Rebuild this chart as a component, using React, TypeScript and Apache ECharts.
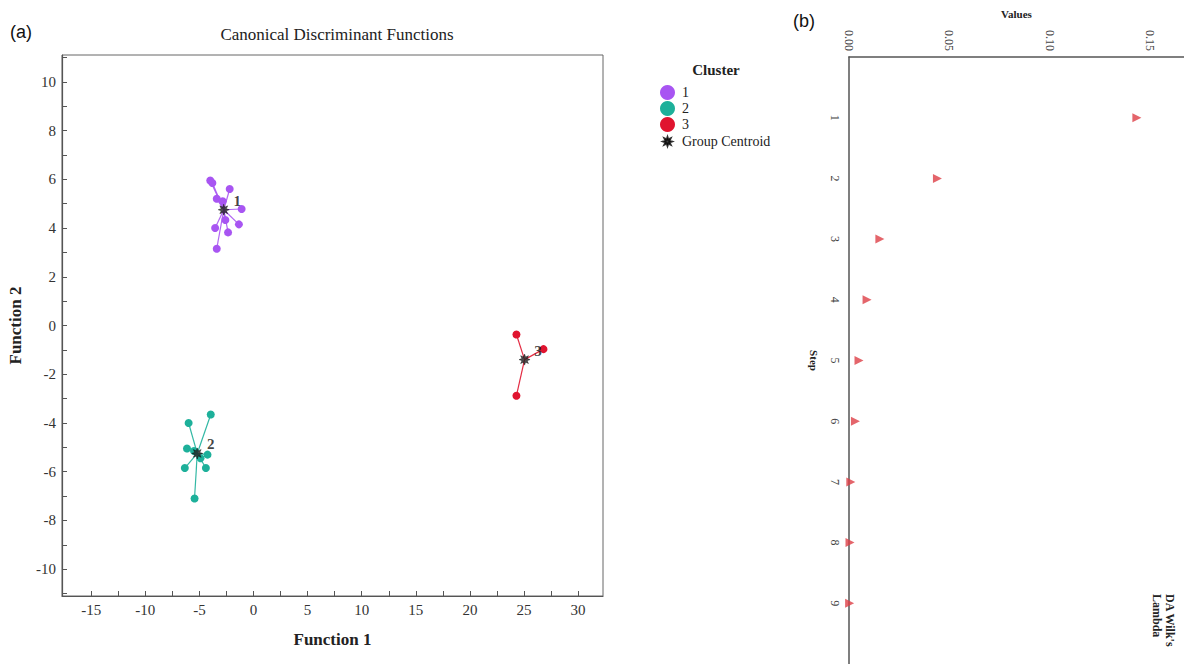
import React, { useEffect, useRef } from "react";
import * as echarts from "echarts";

// Panel (a) data: canonical discriminant scores
const cluster1Points: [number, number][] = [
  [-4.0, 5.95], [-3.8, 5.85], [-2.2, 5.6], [-3.4, 5.2], [-2.85, 5.1], [-1.1, 4.78],
  [-2.6, 4.33], [-1.35, 4.15], [-3.55, 4.0], [-2.35, 3.82], [-3.4, 3.15],
];
const cluster2Points: [number, number][] = [
  [-3.95, -3.65], [-6.0, -4.0], [-6.15, -5.05], [-5.5, -5.15], [-4.25, -5.3],
  [-4.9, -5.45], [-6.35, -5.85], [-4.4, -5.85], [-5.45, -7.1],
];
const cluster3Points: [number, number][] = [
  [24.3, -0.37], [26.8, -0.97], [24.3, -2.88],
];
const centroidNames = ["1", "2", "3"];
const centroids: [number, number][] = [
  [-2.75, 4.75], [-5.2, -5.25], [25.05, -1.4],
];
const clusterColors = ["#A855F2", "#1DB09A", "#E0142F"];
const xLabelValues = [-15, -10, -5, 0, 5, 10, 15, 20, 25, 30];
const xTickValues = [-15, -12.5, -10, -7.5, -5, -2.5, 0, 2.5, 5, 7.5, 10, 12.5, 15, 17.5, 20, 22.5, 25, 27.5, 30];
const yLabelValues = [-10, -8, -6, -4, -2, 0, 2, 4, 6, 8, 10];
const yTickValues = [-11, -10, -9, -8, -7, -6, -5, -4, -3, -2, -1, 0, 1, 2, 3, 4, 5, 6, 7, 8, 9, 10, 11];

// Panel (b) data: Wilks' lambda by step
const steps = [1, 2, 3, 4, 5, 6, 7, 8, 9];
const lambdaValues = [0.1435, 0.0441, 0.0154, 0.009, 0.005, 0.0032, 0.0009, 0.0005, 0.0003];
const valueLabelValues = [0, 0.05, 0.1, 0.15];

const STAR_D =
  "M20 10 L14.62 11.91 L17.07 17.07 L11.91 14.62 L10 20 L8.09 14.62 L2.93 17.07 L5.38 11.91 L0 10 L5.38 8.09 L2.93 2.93 L8.09 5.38 L10 0 L11.91 5.38 L17.07 2.93 L14.62 8.09 Z";
const STAR = "path://" + STAR_D;
const STAR_LEGEND = "path://M-7 -7 " + STAR_D + " M27 27";

const SERIF = "'Liberation Serif', 'DejaVu Serif', serif";
const SANS = "'Liberation Sans', Arial, sans-serif";

export default function App() {
  const ref = useRef<HTMLDivElement>(null);
  useEffect(() => {
    document.body.style.margin = "0";
    if (!ref.current) return;
    const chart = echarts.init(ref.current, undefined, { renderer: "svg" });
    const clusters = [cluster1Points, cluster2Points, cluster3Points];

    const lineSeries = clusters.map((pts, i) => ({
      type: "lines",
      coordinateSystem: "cartesian2d",
      xAxisIndex: 0,
      yAxisIndex: 0,
      silent: true,
      z: 1,
      lineStyle: { color: clusterColors[i], width: 1.2, opacity: 0.9 },
      data: pts.map((p) => ({ coords: [centroids[i], p] })),
    }));

    const pointSeries = clusters.map((pts, i) => ({
      type: "scatter",
      name: String(i + 1),
      xAxisIndex: 0,
      yAxisIndex: 0,
      symbol: "circle",
      symbolSize: 8,
      z: 3,
      itemStyle: { color: clusterColors[i], opacity: 1 },
      data: pts,
    }));

    const axisLabelStyle = { fontFamily: SERIF, fontSize: 15, color: "#333" };

    chart.setOption({
      animation: false,
      backgroundColor: "#ffffff",
      legend: {
        orient: "vertical",
        left: 654,
        top: 80,
        itemWidth: 15,
        itemHeight: 15,
        itemGap: 1,
        textStyle: { fontFamily: SERIF, fontSize: 14, color: "#222", padding: [0, 0, 0, 2] },
        data: [
          { name: "1", icon: "circle" },
          { name: "2", icon: "circle" },
          { name: "3", icon: "circle" },
          { name: "Group Centroid", icon: STAR_LEGEND, itemStyle: { color: "#111" } },
        ],
        selectedMode: false,
      },
      graphic: [
        { type: "text", left: 10, top: 23, style: { text: "(a)", font: `18px ${SANS}`, fill: "#111" } },
        { type: "text", left: 793, top: 12, style: { text: "(b)", font: `18px ${SANS}`, fill: "#111" } },
        {
          type: "text", x: 337, y: 34,
          style: { text: "Canonical Discriminant Functions", font: `17px ${SERIF}`, fill: "#222", textAlign: "center", textVerticalAlign: "middle" },
        },
        {
          type: "text", x: 716, y: 70,
          style: { text: "Cluster", font: `bold 15px ${SERIF}`, fill: "#222", textAlign: "center", textVerticalAlign: "middle" },
        },
        {
          type: "text", x: 1163, y: 594, rotation: -Math.PI / 2,
          style: { text: "DA Wilk's\nLambda", font: `bold 12px ${SERIF}`, fill: "#222", textAlign: "left", textVerticalAlign: "middle", lineHeight: 13 },
        },
      ],
      grid: [
        { left: 62, top: 55, width: 541, height: 541, show: true, borderColor: "#666", borderWidth: 1, backgroundColor: "#fff" },
        { left: 849, top: 57, width: 335, height: 608 },
      ],
      xAxis: [
        {
          type: "value", gridIndex: 0, min: -17.7, max: 32.3,
          name: "Function 1", nameLocation: "middle", nameGap: 35,
          nameTextStyle: { fontFamily: SERIF, fontSize: 17, fontWeight: "bold", color: "#222" },
          axisLine: { show: true, onZero: false, lineStyle: { color: "#555", width: 1.2 } },
          axisTick: { show: true, inside: true, length: 5, customValues: xTickValues, lineStyle: { color: "#555" } },
          axisLabel: { ...axisLabelStyle, margin: 6, customValues: xLabelValues },
          splitLine: { show: false },
        },
        {
          type: "value", gridIndex: 1, position: "top", min: 0, max: 0.167,
          name: "Values", nameLocation: "middle", nameGap: 38,
          nameTextStyle: { fontFamily: SERIF, fontSize: 11, fontWeight: "bold", color: "#222" },
          axisLine: { show: true, lineStyle: { color: "#555", width: 1.5 } },
          axisTick: { show: false },
          axisLabel: {
            fontFamily: SERIF, fontSize: 12, color: "#444", rotate: -90, margin: 6,
            customValues: valueLabelValues,
            formatter: (v: number) => v.toFixed(2),
          },
          splitLine: { show: false },
        },
      ],
      yAxis: [
        {
          type: "value", gridIndex: 0, min: -11.1, max: 11.1,
          name: "Function 2", nameLocation: "middle", nameGap: 38,
          nameTextStyle: { fontFamily: SERIF, fontSize: 17, fontWeight: "bold", color: "#222" },
          axisLine: { show: true, onZero: false, lineStyle: { color: "#555", width: 1.2 } },
          axisTick: { show: true, inside: true, length: 5, customValues: yTickValues, lineStyle: { color: "#555" } },
          axisLabel: { ...axisLabelStyle, margin: 6, customValues: yLabelValues },
          splitLine: { show: false },
        },
        {
          type: "value", gridIndex: 1, min: 0, max: 10, inverse: true,
          name: "Step", nameLocation: "middle", nameGap: 30, nameRotate: -90,
          nameTextStyle: { fontFamily: SERIF, fontSize: 11, fontWeight: "bold", color: "#222" },
          axisLine: { show: true, lineStyle: { color: "#555", width: 1.5 } },
          axisTick: { show: false },
          axisLabel: { fontFamily: SERIF, fontSize: 12, color: "#444", rotate: -90, margin: 8, customValues: steps },
          splitLine: { show: false },
        },
      ],
      series: [
        ...lineSeries,
        ...pointSeries,
        {
          type: "scatter",
          name: "Group Centroid",
          xAxisIndex: 0,
          yAxisIndex: 0,
          symbol: STAR,
          symbolSize: 11,
          z: 4,
          itemStyle: { color: "#222", borderColor: "#000", borderWidth: 0.5 },
          label: {
            show: true,
            position: "right",
            offset: [-1, -9],
            formatter: (p: any) => p.name,
            fontFamily: SERIF,
            fontSize: 15,
            fontWeight: "bold",
            color: "#111",
          },
          data: centroids.map((c, i) => ({ name: centroidNames[i], value: c })),
        },
        {
          type: "scatter",
          name: "Wilks",
          xAxisIndex: 1,
          yAxisIndex: 1,
          symbol: "triangle",
          symbolRotate: -90,
          symbolSize: 9,
          itemStyle: { color: "#DD3F46" },
          data: steps.map((s, i) => [lambdaValues[i], s]),
        },
      ],
    });
    return () => chart.dispose();
  }, []);
  return <div ref={ref} style={{ width: 1184, height: 664 }} />;
}
